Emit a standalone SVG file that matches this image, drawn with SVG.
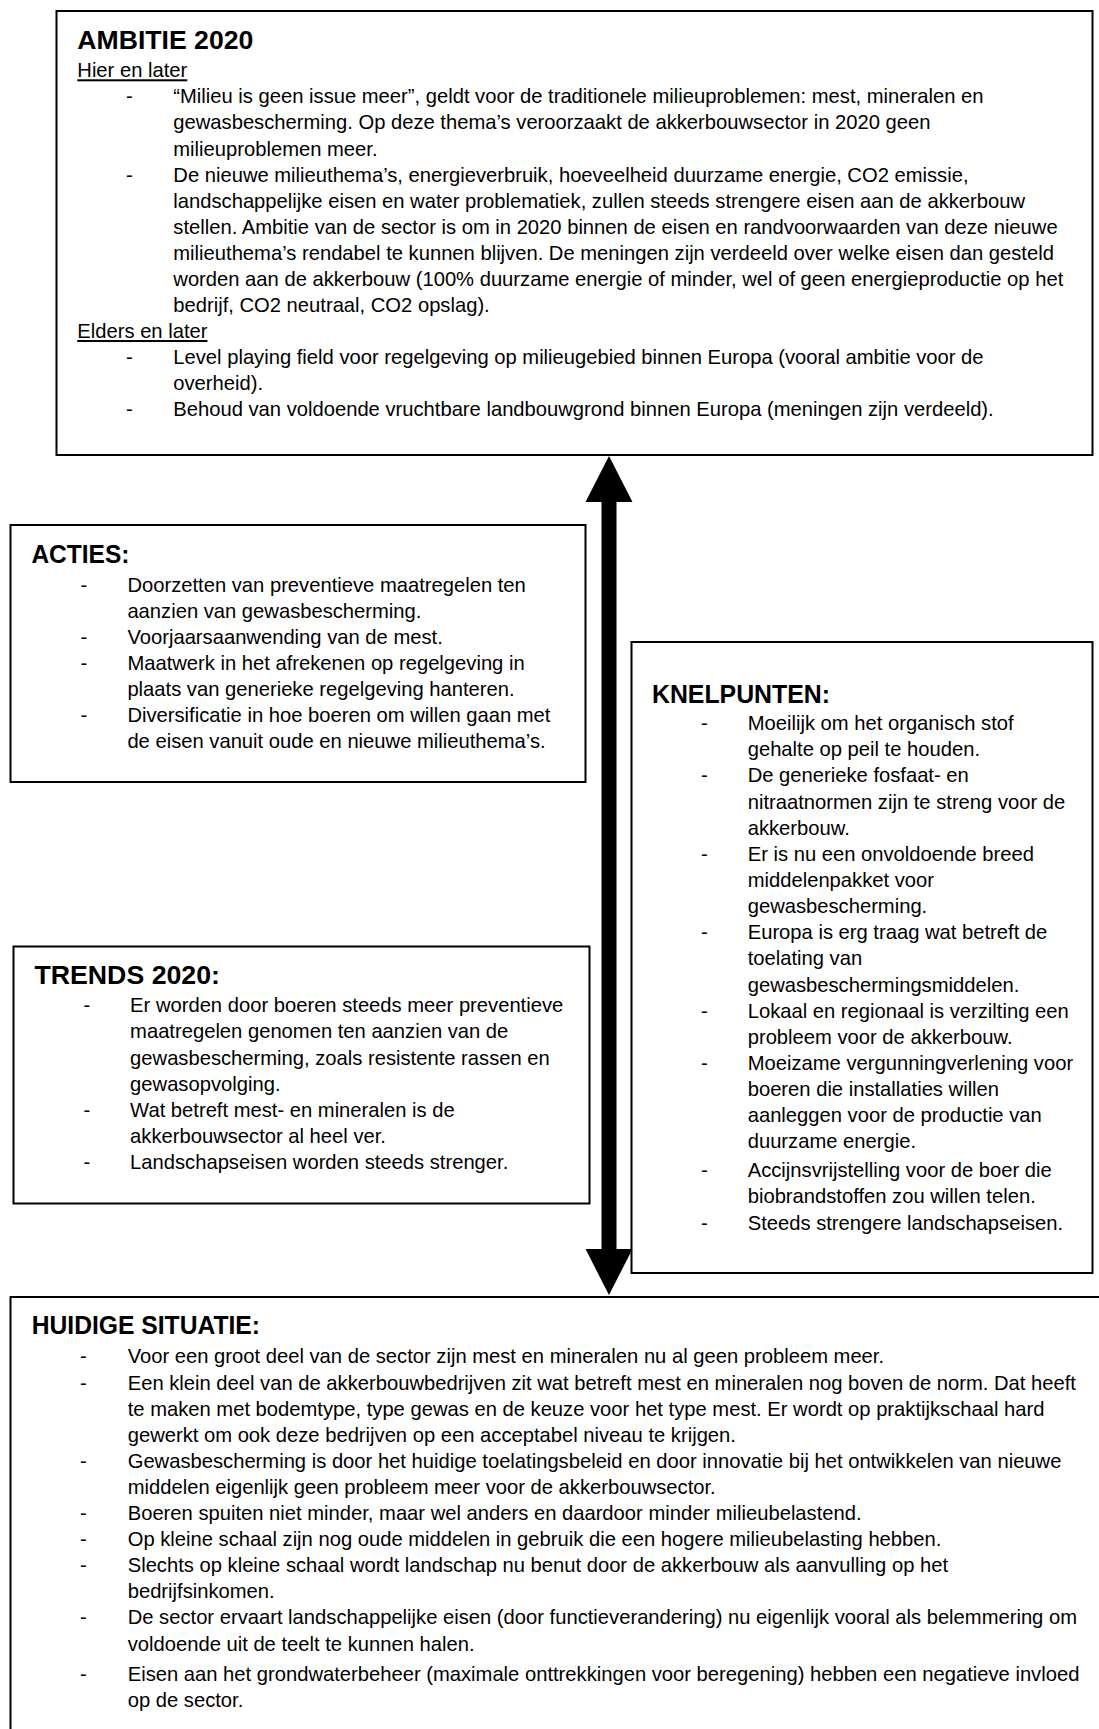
<svg xmlns="http://www.w3.org/2000/svg" width="1099" height="1729" viewBox="0 0 1099 1729">
<style>
.box{fill:#fff;stroke:#000;stroke-width:2}
.t{font-family:"Liberation Sans",Arial,sans-serif;font-size:20.2px;fill:#000}
.h{font-family:"Liberation Sans",Arial,sans-serif;font-size:26.5px;font-weight:bold;fill:#000}
.u{text-decoration:underline}
</style>
<rect width="1099" height="1729" fill="#fff"/>

<g id="ambitie">
<rect class="box" x="56.5" y="11" width="1036" height="444"/>
<text class="h" x="77.3" y="49" textLength="176" lengthAdjust="spacingAndGlyphs">AMBITIE 2020</text>
<text class="t u" x="77.3" y="77.3">Hier en later</text>
<text class="t" x="126" y="103.3">-</text>
<text class="t" x="173.3" y="103.3">“Milieu is geen issue meer”, geldt voor de traditionele milieuproblemen: mest, mineralen en</text>
<text class="t" x="173.3" y="129.3">gewasbescherming. Op deze thema’s veroorzaakt de akkerbouwsector in 2020 geen</text>
<text class="t" x="173.3" y="155.5">milieuproblemen meer.</text>
<text class="t" x="126" y="181.6">-</text>
<text class="t" x="173.3" y="181.6">De nieuwe milieuthema’s, energieverbruik, hoeveelheid duurzame energie, CO2 emissie,</text>
<text class="t" x="173.3" y="207.6">landschappelijke eisen en water problematiek, zullen steeds strengere eisen aan de akkerbouw</text>
<text class="t" x="173.3" y="233.6">stellen. Ambitie van de sector is om in 2020 binnen de eisen en randvoorwaarden van deze nieuwe</text>
<text class="t" x="173.3" y="259.8">milieuthema’s rendabel te kunnen blijven. De meningen zijn verdeeld over welke eisen dan gesteld</text>
<text class="t" x="173.3" y="285.8">worden aan de akkerbouw (100% duurzame energie of minder, wel of geen energieproductie op het</text>
<text class="t" x="173.3" y="311.8">bedrijf, CO2 neutraal, CO2 opslag).</text>
<text class="t u" x="77.3" y="338">Elders en later</text>
<text class="t" x="126" y="364.2">-</text>
<text class="t" x="173.3" y="364.2">Level playing field voor regelgeving op milieugebied binnen Europa (vooral ambitie voor de</text>
<text class="t" x="173.3" y="390.2">overheid).</text>
<text class="t" x="126" y="416">-</text>
<text class="t" x="173.3" y="416">Behoud van voldoende vruchtbare landbouwgrond binnen Europa (meningen zijn verdeeld).</text>
</g>

<g id="acties">
<rect class="box" x="10.5" y="525" width="575" height="257"/>
<text class="h" x="31.4" y="563.3" textLength="98" lengthAdjust="spacingAndGlyphs">ACTIES:</text>
<text class="t" x="80.4" y="591.7">-</text>
<text class="t" x="127.4" y="591.7">Doorzetten van preventieve maatregelen ten</text>
<text class="t" x="127.4" y="617.7">aanzien van gewasbescherming.</text>
<text class="t" x="80.4" y="643.7">-</text>
<text class="t" x="127.4" y="643.7">Voorjaarsaanwending van de mest.</text>
<text class="t" x="80.4" y="669.7">-</text>
<text class="t" x="127.4" y="669.7">Maatwerk in het afrekenen op regelgeving in</text>
<text class="t" x="127.4" y="695.7">plaats van generieke regelgeving hanteren.</text>
<text class="t" x="80.4" y="721.7">-</text>
<text class="t" x="127.4" y="721.7">Diversificatie in hoe boeren om willen gaan met</text>
<text class="t" x="127.4" y="747.7">de eisen vanuit oude en nieuwe milieuthema’s.</text>
</g>

<g id="knelpunten">
<rect class="box" x="631.5" y="642" width="461" height="631"/>
<text class="h" x="652" y="702.5" textLength="178" lengthAdjust="spacingAndGlyphs">KNELPUNTEN:</text>
<text class="t" x="701" y="730">-</text>
<text class="t" x="747.7" y="730">Moeilijk om het organisch stof</text>
<text class="t" x="747.7" y="756.2">gehalte op peil te houden.</text>
<text class="t" x="701" y="782.3">-</text>
<text class="t" x="747.7" y="782.3">De generieke fosfaat- en</text>
<text class="t" x="747.7" y="808.5">nitraatnormen zijn te streng voor de</text>
<text class="t" x="747.7" y="834.6">akkerbouw.</text>
<text class="t" x="701" y="860.8">-</text>
<text class="t" x="747.7" y="860.8">Er is nu een onvoldoende breed</text>
<text class="t" x="747.7" y="886.9">middelenpakket voor</text>
<text class="t" x="747.7" y="913.1">gewasbescherming.</text>
<text class="t" x="701" y="939.2">-</text>
<text class="t" x="747.7" y="939.2">Europa is erg traag wat betreft de</text>
<text class="t" x="747.7" y="965.4">toelating van</text>
<text class="t" x="747.7" y="991.5">gewasbeschermingsmiddelen.</text>
<text class="t" x="701" y="1017.7">-</text>
<text class="t" x="747.7" y="1017.7">Lokaal en regionaal is verzilting een</text>
<text class="t" x="747.7" y="1043.8">probleem voor de akkerbouw.</text>
<text class="t" x="701" y="1070">-</text>
<text class="t" x="747.7" y="1070">Moeizame vergunningverlening voor</text>
<text class="t" x="747.7" y="1096.1">boeren die installaties willen</text>
<text class="t" x="747.7" y="1122.3">aanleggen voor de productie van</text>
<text class="t" x="747.7" y="1148.4">duurzame energie.</text>
<text class="t" x="701" y="1176.7">-</text>
<text class="t" x="747.7" y="1176.7">Accijnsvrijstelling voor de boer die</text>
<text class="t" x="747.7" y="1203.3">biobrandstoffen zou willen telen.</text>
<text class="t" x="701" y="1230">-</text>
<text class="t" x="747.7" y="1230">Steeds strengere landschapseisen.</text>
</g>

<g id="trends">
<rect class="box" x="13.5" y="946.5" width="576" height="257"/>
<text class="h" x="34.4" y="984.3" textLength="185.6" lengthAdjust="spacingAndGlyphs">TRENDS 2020:</text>
<text class="t" x="83.4" y="1012.3">-</text>
<text class="t" x="130.1" y="1012.3">Er worden door boeren steeds meer preventieve</text>
<text class="t" x="130.1" y="1038.4">maatregelen genomen ten aanzien van de</text>
<text class="t" x="130.1" y="1064.5">gewasbescherming, zoals resistente rassen en</text>
<text class="t" x="130.1" y="1090.5">gewasopvolging.</text>
<text class="t" x="83.4" y="1116.5">-</text>
<text class="t" x="130.1" y="1116.5">Wat betreft mest- en mineralen is de</text>
<text class="t" x="130.1" y="1142.7">akkerbouwsector al heel ver.</text>
<text class="t" x="83.4" y="1169">-</text>
<text class="t" x="130.1" y="1169">Landschapseisen worden steeds strenger.</text>
</g>

<g id="huidige-situatie">
<rect class="box" x="10.5" y="1297" width="1200" height="600"/>
<text class="h" x="31.7" y="1334.3" textLength="228.3" lengthAdjust="spacingAndGlyphs">HUIDIGE SITUATIE:</text>
<text class="t" x="80" y="1363.3">-</text>
<text class="t" x="127.7" y="1363.3">Voor een groot deel van de sector zijn mest en mineralen nu al geen probleem meer.</text>
<text class="t" x="80" y="1389.5">-</text>
<text class="t" x="127.7" y="1389.5">Een klein deel van de akkerbouwbedrijven zit wat betreft mest en mineralen nog boven de norm. Dat heeft</text>
<text class="t" x="127.7" y="1415.6">te maken met bodemtype, type gewas en de keuze voor het type mest. Er wordt op praktijkschaal hard</text>
<text class="t" x="127.7" y="1441.7">gewerkt om ook deze bedrijven op een acceptabel niveau te krijgen.</text>
<text class="t" x="80" y="1467.7">-</text>
<text class="t" x="127.7" y="1467.7">Gewasbescherming is door het huidige toelatingsbeleid en door innovatie bij het ontwikkelen van nieuwe</text>
<text class="t" x="127.7" y="1493.8">middelen eigenlijk geen probleem meer voor de akkerbouwsector.</text>
<text class="t" x="80" y="1519.8">-</text>
<text class="t" x="127.7" y="1519.8">Boeren spuiten niet minder, maar wel anders en daardoor minder milieubelastend.</text>
<text class="t" x="80" y="1545.8">-</text>
<text class="t" x="127.7" y="1545.8">Op kleine schaal zijn nog oude middelen in gebruik die een hogere milieubelasting hebben.</text>
<text class="t" x="80" y="1571.8">-</text>
<text class="t" x="127.7" y="1571.8">Slechts op kleine schaal wordt landschap nu benut door de akkerbouw als aanvulling op het</text>
<text class="t" x="127.7" y="1597.9">bedrijfsinkomen.</text>
<text class="t" x="80" y="1623.5">-</text>
<text class="t" x="127.7" y="1623.5">De sector ervaart landschappelijke eisen (door functieverandering) nu eigenlijk vooral als belemmering om</text>
<text class="t" x="127.7" y="1651">voldoende uit de teelt te kunnen halen.</text>
<text class="t" x="80" y="1680.7">-</text>
<text class="t" x="127.7" y="1680.7">Eisen aan het grondwaterbeheer (maximale onttrekkingen voor beregening) hebben een negatieve invloed</text>
<text class="t" x="127.7" y="1706.7">op de sector.</text>
</g>

<g id="connectors">
<polygon points="609,456 632.5,502 616.5,502 616.5,1249 632.5,1249 609,1295 585.5,1249 601.5,1249 601.5,502 585.5,502" fill="#000"/>
</g>
</svg>
